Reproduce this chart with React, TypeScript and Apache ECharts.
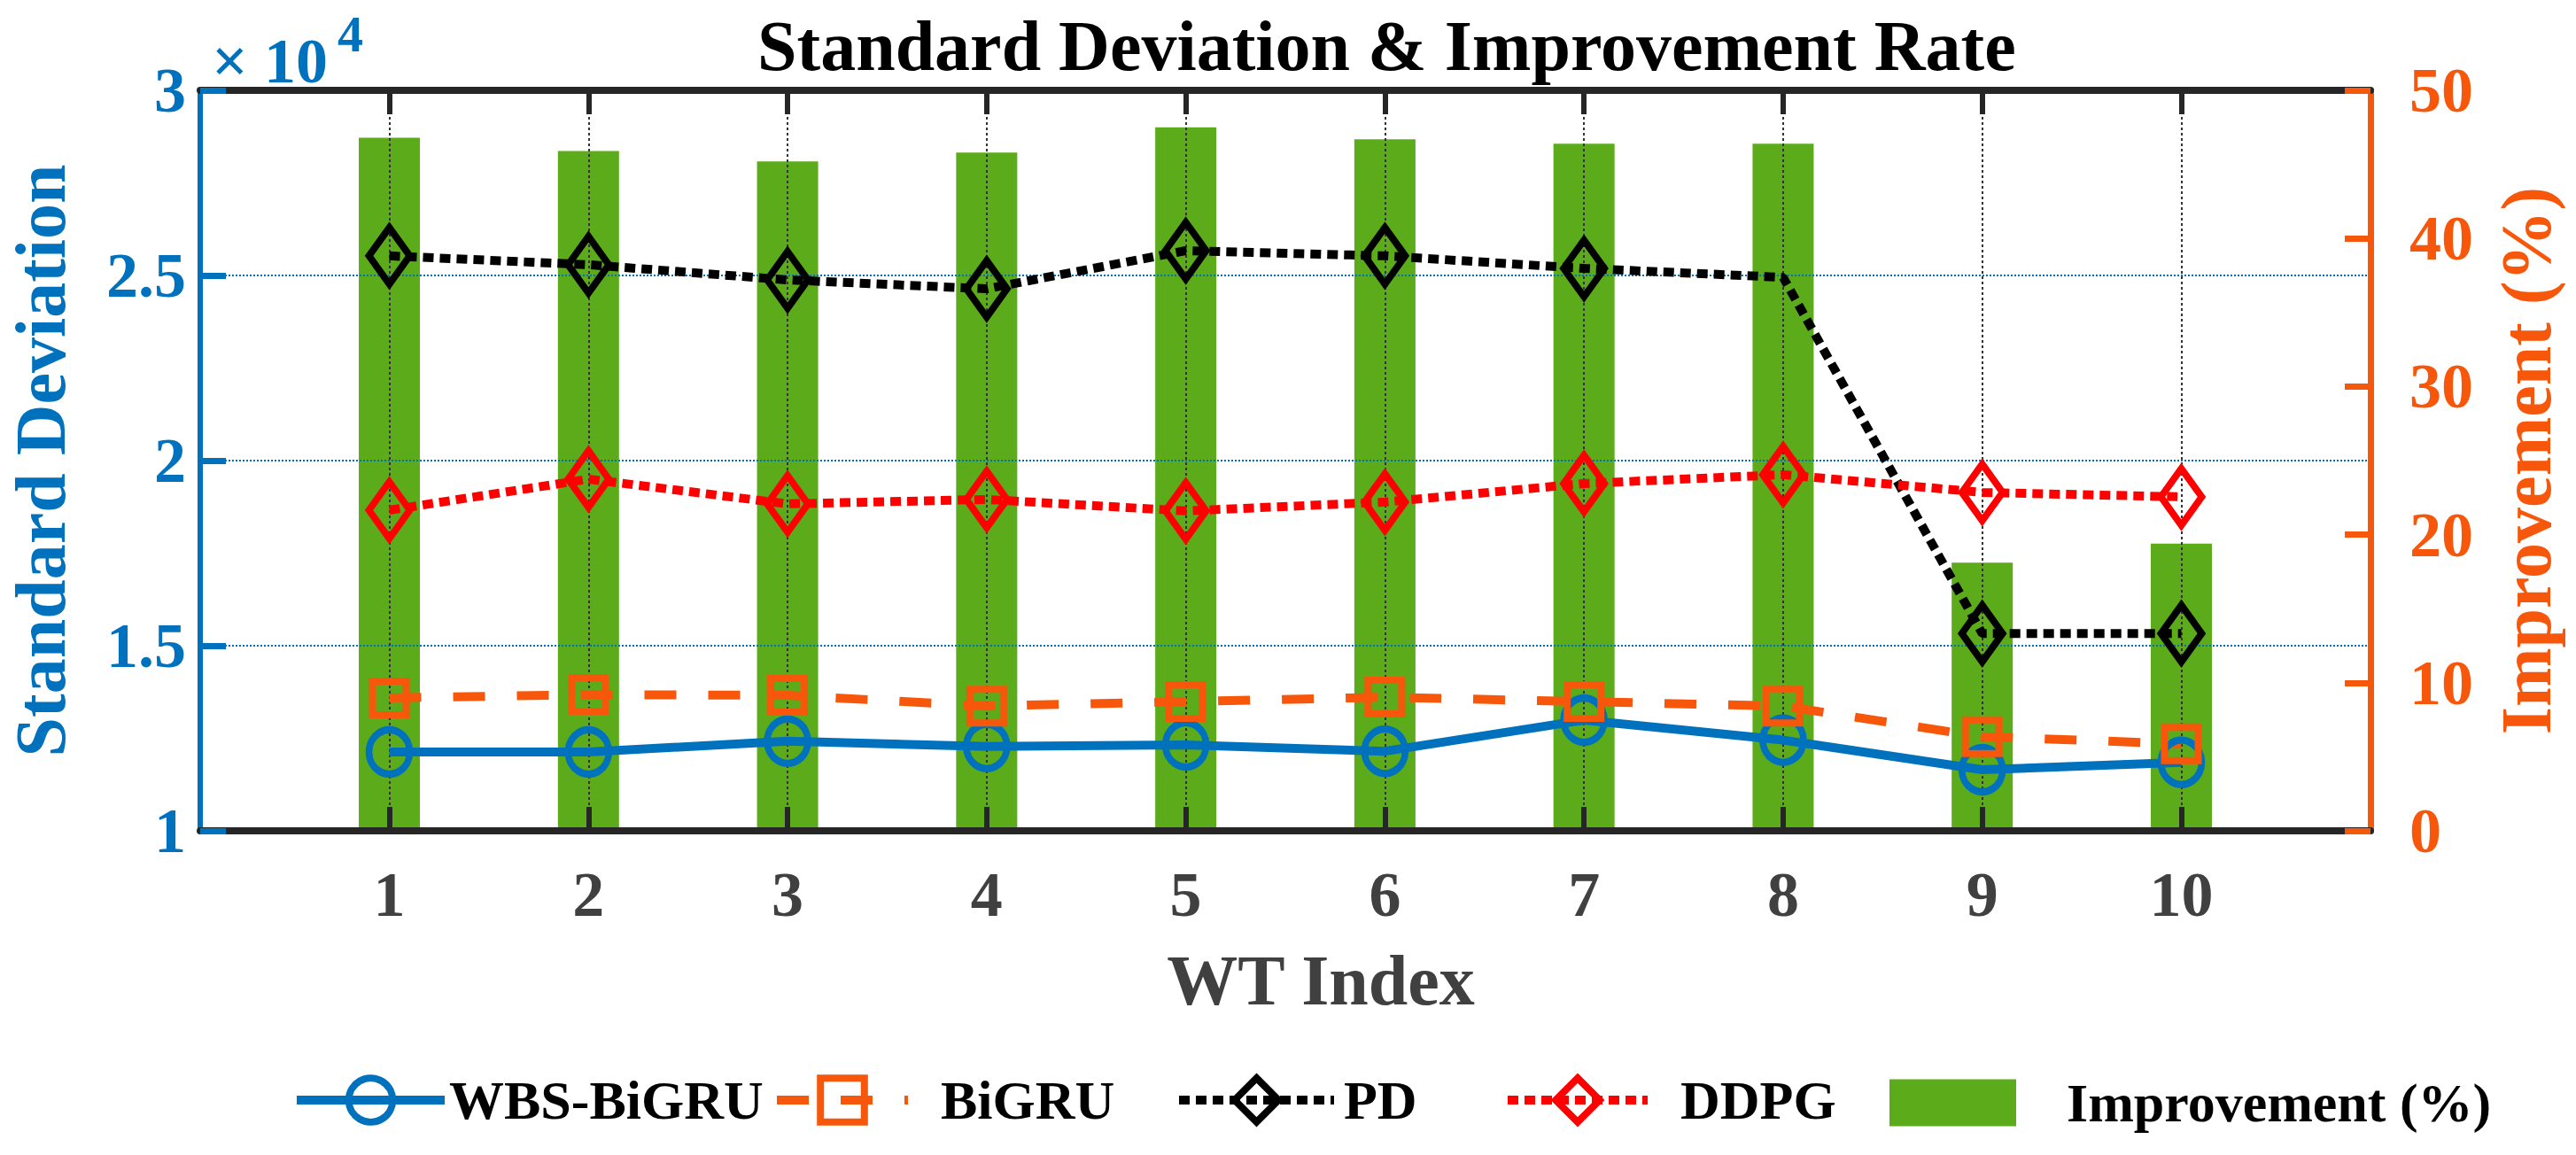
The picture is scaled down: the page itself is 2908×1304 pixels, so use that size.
import React, { useEffect, useRef } from "react";
import * as echarts from "echarts";

// WT index on the x axis
const wtIndex = [1, 2, 3, 4, 5, 6, 7, 8, 9, 10];

// standard deviation per method (left axis, real units; labels shown /1e4)
const wbsBiGRU = [12130, 12130, 12420, 12280, 12320, 12150, 12990, 12450, 11650, 11850];
const biGRU = [13590, 13680, 13660, 13370, 13490, 13610, 13490, 13370, 12540, 12350];
const pd = [25530, 25290, 24880, 24640, 25670, 25530, 25190, 24950, 15330, 15330];
const ddpg = [18660, 19500, 18830, 18950, 18640, 18880, 19380, 19620, 19140, 19020];

// improvement rate in % (right axis)
const improvement = [46.8, 45.9, 45.2, 45.8, 47.5, 46.7, 46.4, 46.4, 18.1, 19.4];

// PD has no marker at WT 8 in the figure
const pdNoMarker = [8];

const leftTicks = [10000, 15000, 20000, 25000, 30000];
const rightTicks = [0, 10, 20, 30, 40, 50];

const FONT = "'Liberation Serif', 'Times New Roman', serif";
const BLUE = "#0072BD";
const ORANGE = "#F7570B";
const RED = "#FF0000";
const GREEN = "#5BAB1A";
const AXIS = "#262626";

const LINE_W = 10;
const MARK_W = 8;

export default function App() {
  const elRef = useRef<HTMLDivElement | null>(null);

  useEffect(() => {
    if (!elRef.current) return;
    const chart = echarts.init(elRef.current, undefined, { renderer: "svg" });

    const pairs = (vals: number[]) => wtIndex.map((x, i) => [x, vals[i]]);

    const hollow = (color: string) => ({
      color: "rgba(0,0,0,0)",
      borderColor: color,
      borderWidth: MARK_W,
    });

    const legendItem = (
      name: string,
      left: number,
      top: number,
      itemWidth: number,
      itemHeight: number,
      gap: number,
      extra: any = {}
    ) => ({
      show: true,
      data: [name],
      left,
      top,
      itemWidth,
      itemHeight,
      itemGap: 0,
      padding: 0,
      textStyle: {
        fontFamily: FONT,
        fontWeight: "bold",
        fontSize: 62,
        color: "#000",
        padding: [0, 0, 0, gap],
      },
      ...extra,
    });

    const lineLegend = (dash: any) => ({
      lineStyle: { width: LINE_W, type: dash },
      itemStyle: { borderWidth: MARK_W },
    });

    const option: any = {
      animation: false,
      backgroundColor: "#fff",
      title: {
        text: "Standard Deviation & Improvement Rate",
        left: 855,
        top: 12,
        padding: 0,
        textStyle: { fontFamily: FONT, fontWeight: "bold", fontSize: 80, color: "#000" },
      },
      grid: {
        left: 226,
        right: 232,
        top: 102,
        bottom: 366,
        containLabel: false,
        outerBoundsMode: "none",
      },
      legend: [
        legendItem("WBS-BiGRU", 330, 1211, 167, 62, 0, lineLegend("solid")),
        legendItem("BiGRU", 872, 1211, 148, 62, 32, lineLegend([36, 36])),
        legendItem("PD", 1326, 1211, 175, 62, 6, lineLegend([12, 7])),
        legendItem("DDPG", 1697, 1211, 158, 62, 32, lineLegend([12, 7])),
        legendItem("Improvement (%)", 2133, 1214, 143, 53, 52, {
          icon: "rect",
          itemStyle: { borderWidth: 0 },
        }),
      ],
      graphic: [
        {
          type: "text",
          x: 239,
          y: 69,
          style: {
            text: "× 10",
            fontFamily: FONT,
            fontWeight: "bold",
            fontSize: 72,
            fill: BLUE,
            verticalAlign: "middle",
            align: "left",
          },
        },
        {
          type: "text",
          x: 381,
          y: 38,
          style: {
            text: "4",
            fontFamily: FONT,
            fontWeight: "bold",
            fontSize: 58,
            fill: BLUE,
            verticalAlign: "middle",
            align: "left",
          },
        },
      ],
      xAxis: [
        {
          type: "value",
          min: 0.05,
          max: 10.95,
          position: "bottom",
          z: 3,
          name: "WT Index",
          nameLocation: "middle",
          nameGap: 169,
          nameTextStyle: {
            fontFamily: FONT,
            fontWeight: "bold",
            fontSize: 80,
            color: "#404040",
            verticalAlign: "middle",
            padding: [0, 0, 0, 80],
          },
          axisLine: { show: true, lineStyle: { color: AXIS, width: 8 } },
          axisTick: {
            show: true,
            inside: true,
            length: 27,
            customValues: wtIndex,
            lineStyle: { color: AXIS, width: 6 },
          },
          axisLabel: {
            show: true,
            customValues: wtIndex,
            margin: 72,
            verticalAlign: "middle",
            fontFamily: FONT,
            fontWeight: "bold",
            fontSize: 72,
            color: "#404040",
          },
          splitLine: {
            show: true,
            lineStyle: { color: "#333", width: 2, type: [3, 3] },
          },
        },
        {
          type: "value",
          min: 0.05,
          max: 10.95,
          position: "top",
          z: 3,
          axisLine: { show: true, lineStyle: { color: AXIS, width: 8 } },
          axisTick: {
            show: true,
            inside: true,
            length: 27,
            customValues: wtIndex,
            lineStyle: { color: AXIS, width: 6 },
          },
          axisLabel: { show: false },
          splitLine: { show: false },
        },
      ],
      yAxis: [
        {
          type: "value",
          position: "left",
          min: leftTicks[0],
          max: leftTicks[leftTicks.length - 1],
          interval: leftTicks[1] - leftTicks[0],
          z: 3,
          name: "Standard Deviation",
          nameLocation: "middle",
          nameGap: 180,
          nameTextStyle: {
            fontFamily: FONT,
            fontWeight: "bold",
            fontSize: 80,
            color: BLUE,
            verticalAlign: "middle",
          },
          axisLine: { show: true, lineStyle: { color: BLUE, width: 6 } },
          axisTick: { show: true, inside: true, length: 29, lineStyle: { color: BLUE, width: 7 } },
          axisLabel: {
            formatter: (v: number) => String(v / 10000),
            margin: 16,
            padding: [16, 0, 0, 0],
            verticalAlign: "middle",
            fontFamily: FONT,
            fontWeight: "bold",
            fontSize: 72,
            color: BLUE,
          },
          splitLine: {
            show: true,
            lineStyle: { color: BLUE, width: 2, type: [2, 2] },
          },
        },
        {
          type: "value",
          position: "right",
          min: rightTicks[0],
          max: rightTicks[rightTicks.length - 1],
          interval: rightTicks[1] - rightTicks[0],
          z: 3,
          name: "Improvement (%)",
          nameLocation: "middle",
          nameGap: 176,
          nameTextStyle: {
            fontFamily: FONT,
            fontWeight: "bold",
            fontSize: 80,
            color: ORANGE,
            verticalAlign: "middle",
          },
          axisLine: { show: true, lineStyle: { color: ORANGE, width: 7 } },
          axisTick: { show: true, inside: true, length: 29, lineStyle: { color: ORANGE, width: 7 } },
          axisLabel: {
            margin: 44,
            padding: [16, 0, 0, 0],
            align: "left",
            verticalAlign: "middle",
            fontFamily: FONT,
            fontWeight: "bold",
            fontSize: 72,
            color: ORANGE,
          },
          splitLine: { show: false },
        },
      ],
      series: [
        {
          name: "Improvement (%)",
          type: "bar",
          xAxisIndex: 0,
          yAxisIndex: 1,
          barWidth: 69,
          z: 2,
          itemStyle: { color: GREEN },
          data: pairs(improvement),
        },
        {
          name: "WBS-BiGRU",
          type: "line",
          yAxisIndex: 0,
          z: 4,
          symbol: "circle",
          symbolSize: [46, 50],
          showAllSymbol: true,
          lineStyle: { color: BLUE, width: LINE_W },
          itemStyle: hollow(BLUE),
          data: pairs(wbsBiGRU),
        },
        {
          name: "BiGRU",
          type: "line",
          yAxisIndex: 0,
          z: 4,
          symbol: "rect",
          symbolSize: [38, 38],
          showAllSymbol: true,
          lineStyle: { color: ORANGE, width: LINE_W, type: [36, 36] },
          itemStyle: hollow(ORANGE),
          data: pairs(biGRU),
        },
        {
          name: "PD",
          type: "line",
          yAxisIndex: 0,
          z: 4,
          symbol: "diamond",
          symbolSize: [46, 64],
          showAllSymbol: true,
          lineStyle: { color: "#000", width: LINE_W, type: [12, 7] },
          itemStyle: hollow("#000"),
          data: wtIndex.map((x, i) =>
            pdNoMarker.includes(x)
              ? { value: [x, pd[i]], symbol: "none" }
              : { value: [x, pd[i]] }
          ),
        },
        {
          name: "DDPG",
          type: "line",
          yAxisIndex: 0,
          z: 4,
          symbol: "diamond",
          symbolSize: [46, 64],
          showAllSymbol: true,
          lineStyle: { color: RED, width: LINE_W, type: [12, 7] },
          itemStyle: hollow(RED),
          data: pairs(ddpg),
        },
      ],
    };

    chart.setOption(option);
    return () => chart.dispose();
  }, []);

  return (
    <div
      ref={elRef}
      style={{ position: "fixed", left: 0, top: 0, width: 2908, height: 1304, background: "#fff" }}
    />
  );
}
